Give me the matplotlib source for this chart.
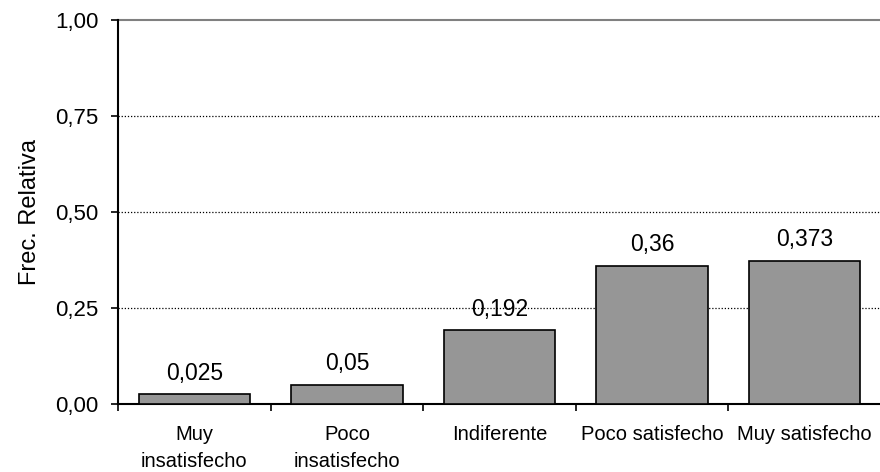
import matplotlib
matplotlib.use("Agg")
import matplotlib.pyplot as plt

categories = ["Muy\ninsatisfecho", "Poco\ninsatisfecho", "Indiferente", "Poco satisfecho", "Muy satisfecho"]
values = [0.025, 0.05, 0.192, 0.36, 0.373]
value_labels = ["0,025", "0,05", "0,192", "0,36", "0,373"]
yticks = [0.0, 0.25, 0.5, 0.75, 1.0]
ytick_labels = ["0,00", "0,25", "0,50", "0,75", "1,00"]

plt.rcParams['font.family'] = ['Liberation Sans', 'DejaVu Sans']

fig = plt.figure(figsize=(8.8, 4.72), dpi=100)
ax = fig.add_axes([118/880, 68/472, 763/880, 384/472])

x = list(range(len(categories)))
ax.bar([i + 0.5 for i in x], values, width=0.73, color="#969696", edgecolor="black", linewidth=1.2, zorder=3)
for i, (v, lab) in enumerate(zip(values, value_labels)):
    ax.text(i + 0.5, v + 0.025, lab, ha="center", va="bottom", fontsize=16.5, zorder=4)

ax.set_xlim(0, 5)
ax.set_ylim(0, 1)
ax.set_yticks(yticks)
ax.set_yticklabels(ytick_labels, fontsize=16)
for yv in yticks[1:-1]:
    ax.axhline(yv, color="black", linestyle=(0, (1, 1.5)), linewidth=0.9, zorder=1)
ax.axhline(1.0, color="#808080", linewidth=1.5, zorder=1, clip_on=False)

ax.set_xticks(range(0, 6))
ax.set_xticklabels([])
ax.set_xticks([i + 0.5 for i in x], minor=True)
ax.set_xticklabels(categories, minor=True, fontsize=14.5, linespacing=1.55)
ax.tick_params(axis="x", which="minor", length=0, pad=15)
ax.tick_params(axis="x", which="major", length=5, width=1.2, direction="out")
ax.tick_params(axis="y", length=5, width=1.2, direction="out", pad=9)

ax.spines["top"].set_visible(False)
ax.spines["right"].set_visible(False)
ax.spines["left"].set_linewidth(1.5)
ax.spines["bottom"].set_linewidth(1.5)

ax.set_ylabel("Frec. Relativa", fontsize=17, labelpad=10)

fig.savefig("out.png", dpi=100)
